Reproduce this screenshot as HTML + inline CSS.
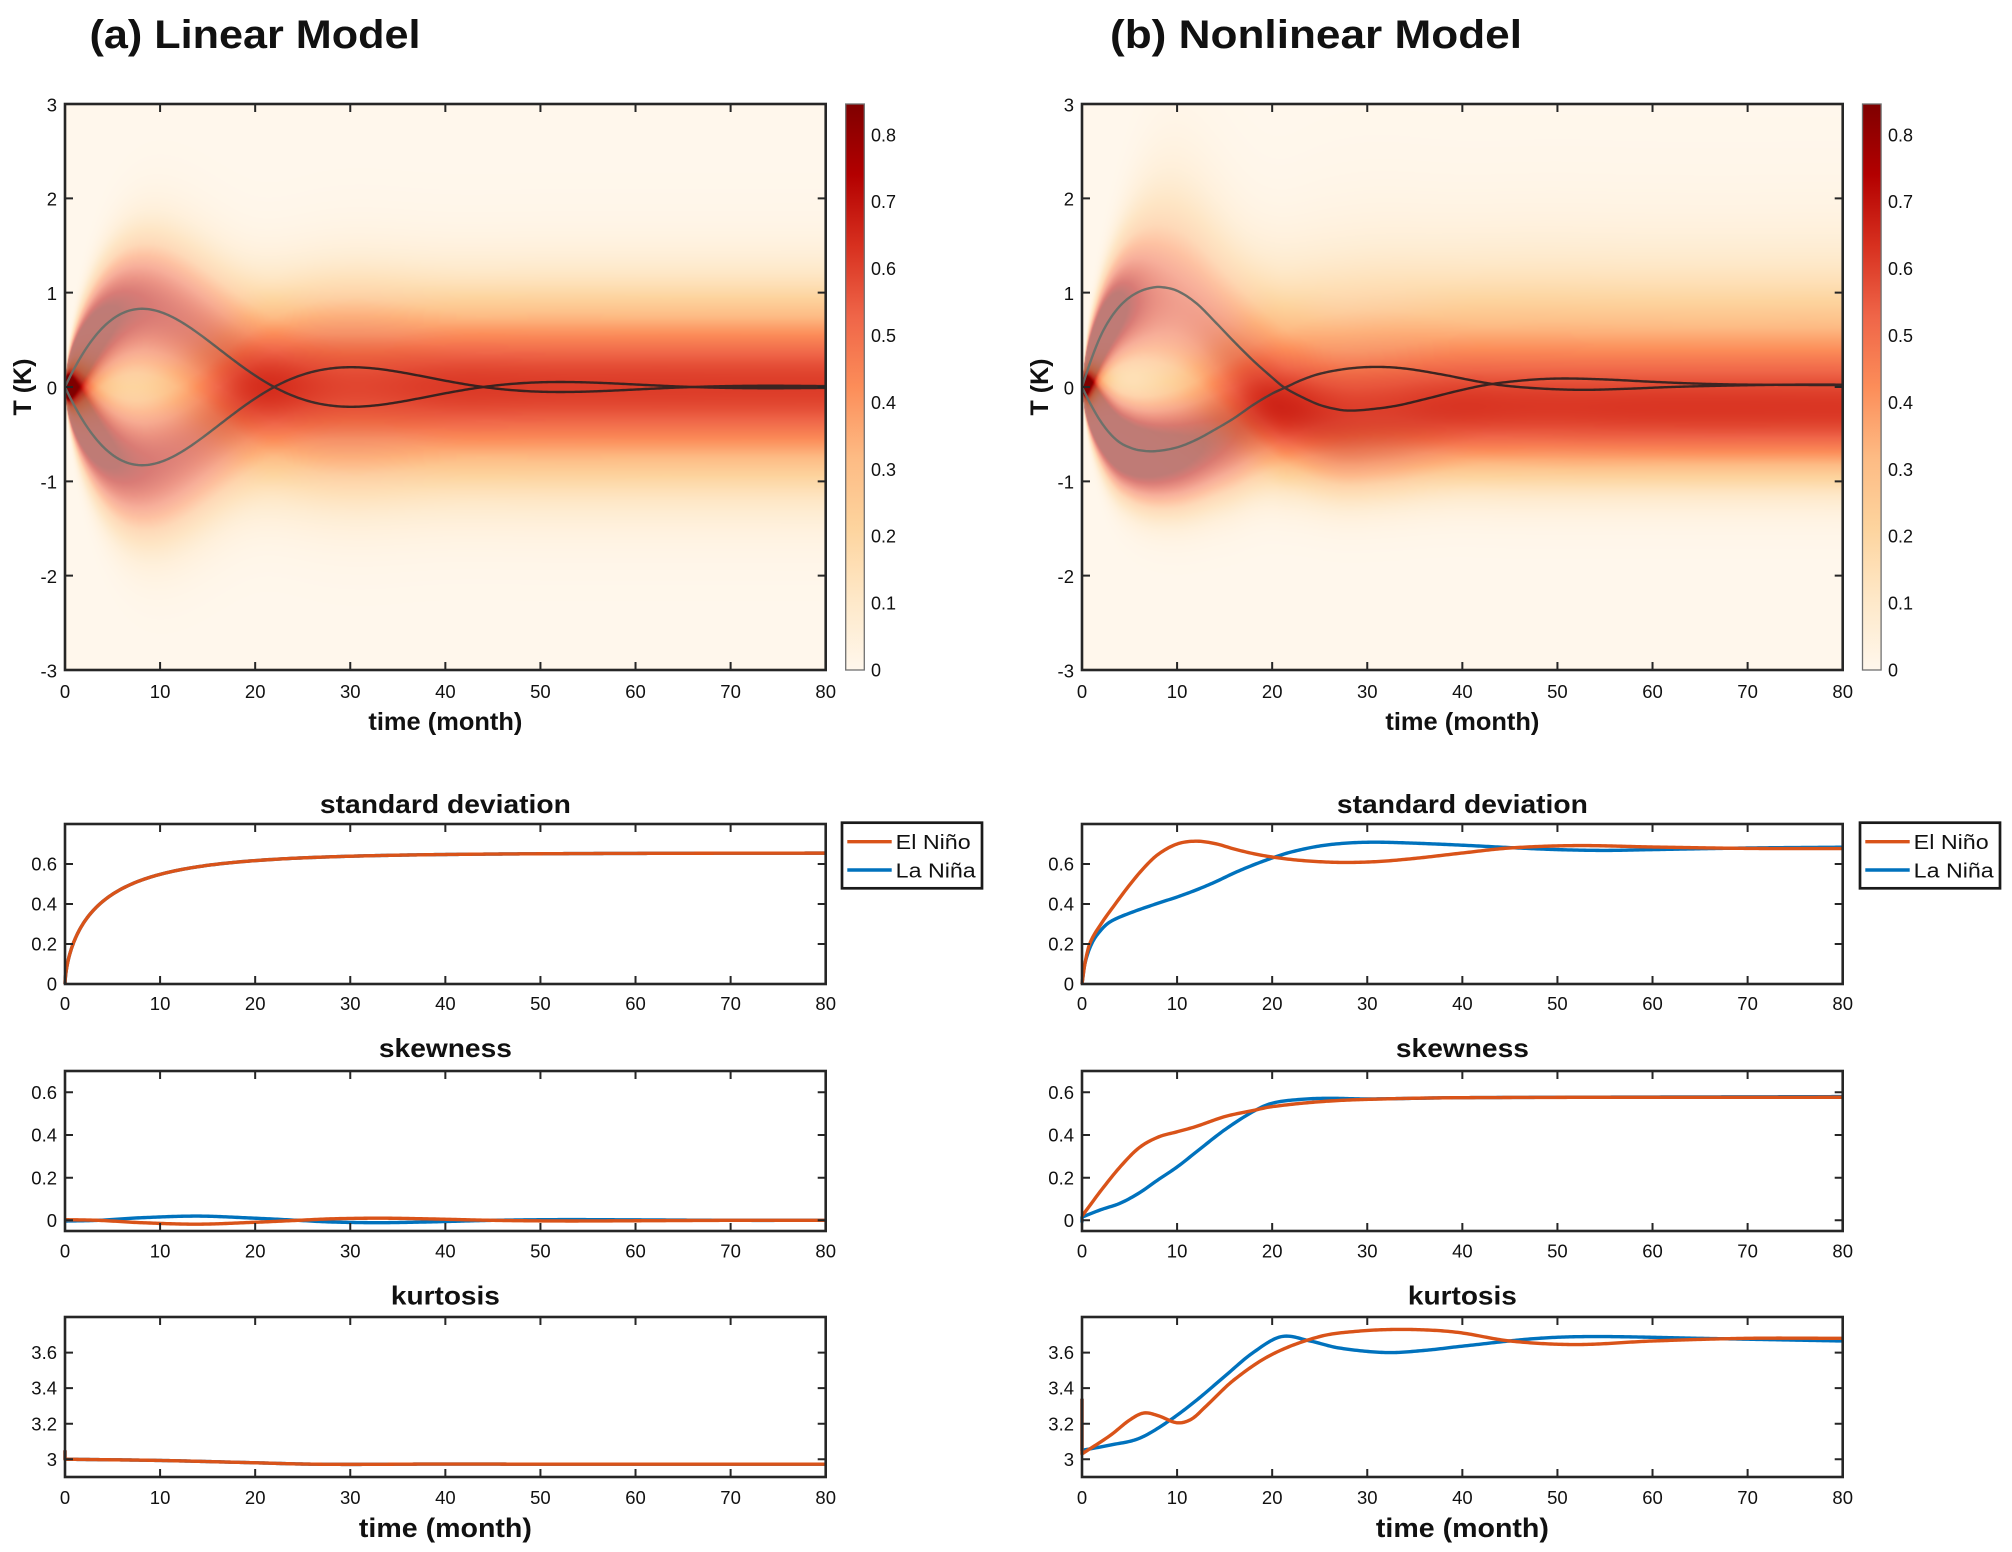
<!DOCTYPE html>
<html><head><meta charset="utf-8">
<style>
html,body{margin:0;padding:0;background:#fff;}
body{width:2012px;height:1552px;position:relative;overflow:hidden;font-family:"Liberation Sans",Arial,sans-serif;}
canvas{position:absolute;}
svg{position:absolute;left:0;top:0;}
</style></head><body>
<canvas id="ha" width="761" height="566" style="left:65px;top:104px;background:#fff7ec"></canvas>
<canvas id="hb" width="761" height="566" style="left:1082px;top:104px;background:#fff7ec"></canvas>
<svg width="2012" height="1552" viewBox="0 0 2012 1552">
<defs>
<linearGradient id="cm" x1="0" y1="1" x2="0" y2="0">
<stop offset="0" stop-color="#fff7ec"/><stop offset="0.125" stop-color="#fee8c8"/><stop offset="0.25" stop-color="#fdd49e"/><stop offset="0.375" stop-color="#fdbb84"/><stop offset="0.5" stop-color="#fc8d59"/><stop offset="0.625" stop-color="#ef6548"/><stop offset="0.75" stop-color="#d7301f"/><stop offset="0.875" stop-color="#b30000"/><stop offset="1" stop-color="#7f0000"/>
</linearGradient>
<linearGradient id="mga" gradientUnits="userSpaceOnUse" x1="65" y1="0" x2="825.7" y2="0">
<stop offset="0" stop-color="#66736d"/><stop offset="0.18" stop-color="#5c6660"/><stop offset="0.27" stop-color="#353030"/><stop offset="0.4" stop-color="#2a1f1d"/><stop offset="1" stop-color="#2a2222"/>
</linearGradient>
<linearGradient id="mgb" gradientUnits="userSpaceOnUse" x1="1082" y1="0" x2="1842.7" y2="0">
<stop offset="0" stop-color="#66736d"/><stop offset="0.18" stop-color="#5c6660"/><stop offset="0.27" stop-color="#353030"/><stop offset="0.4" stop-color="#2a1f1d"/><stop offset="1" stop-color="#2a2222"/>
</linearGradient>
<clipPath id="cha"><rect x="65" y="104" width="760.7" height="566"/></clipPath>
<clipPath id="chb"><rect x="1082" y="104" width="760.7" height="566"/></clipPath>
<clipPath id="cla"><rect x="63" y="700" width="765" height="800"/></clipPath>
<clipPath id="clb"><rect x="1080" y="700" width="765" height="800"/></clipPath>
</defs>

<g clip-path="url(#cha)" fill="none" stroke="url(#mga)" stroke-width="2.4" opacity="0.9">
<path id="mA1"/><path id="mA2"/>
</g>
<g clip-path="url(#chb)" fill="none" stroke="url(#mgb)" stroke-width="2.4" opacity="0.9">
<path id="mB1"/><path id="mB2"/>
</g>

<g clip-path="url(#cla)" fill="none" stroke-width="3.4" stroke-linejoin="round" stroke-linecap="butt">
<path id="sdAb" stroke="#0072BD"/><path id="sdAo" stroke="#D95319"/>
<path id="skAb" stroke="#0072BD"/><path id="skAo" stroke="#D95319"/>
<path id="kuAb" stroke="#0072BD"/><path id="kuAo" stroke="#D95319"/>
</g>
<g clip-path="url(#clb)" fill="none" stroke-width="3.4" stroke-linejoin="round" stroke-linecap="butt">
<path id="sdBb" stroke="#0072BD"/><path id="sdBo" stroke="#D95319"/>
<path id="skBb" stroke="#0072BD"/><path id="skBo" stroke="#D95319"/>
<path id="kuBb" stroke="#0072BD"/><path id="kuBo" stroke="#D95319"/>
</g>

<path id="tk" fill="none" stroke="#262626" stroke-width="2"/>
<path id="ctk" fill="none" stroke="#555" stroke-width="1.2"/>

<g fill="none" stroke="#262626" stroke-width="2.6">
<rect x="65" y="104" width="760.7" height="566"/>
<rect x="1082" y="104" width="760.7" height="566"/>
<rect x="65" y="824" width="760.7" height="160"/>
<rect x="1082" y="824" width="760.7" height="160"/>
<rect x="65" y="1071" width="760.7" height="160"/>
<rect x="1082" y="1071" width="760.7" height="160"/>
<rect x="65" y="1317" width="760.7" height="160"/>
<rect x="1082" y="1317" width="760.7" height="160"/>
</g>

<rect x="845.7" y="104" width="18.6" height="566" fill="url(#cm)" stroke="#707070" stroke-width="1.3"/>
<rect x="1862.5" y="104" width="18.6" height="566" fill="url(#cm)" stroke="#707070" stroke-width="1.3"/>

<rect x="842" y="822.7" width="140" height="65.6" fill="#fff" stroke="#1a1a1a" stroke-width="2.7"/>
<line x1="847.3" y1="841.7" x2="891.7" y2="841.7" stroke="#D95319" stroke-width="3.4"/>
<line x1="847.3" y1="870" x2="891.7" y2="870" stroke="#0072BD" stroke-width="3.4"/>
<rect x="1860" y="822.7" width="140" height="65.6" fill="#fff" stroke="#1a1a1a" stroke-width="2.7"/>
<line x1="1865.3" y1="841.7" x2="1909.7" y2="841.7" stroke="#D95319" stroke-width="3.4"/>
<line x1="1865.3" y1="870" x2="1909.7" y2="870" stroke="#0072BD" stroke-width="3.4"/>

<g fill="#111" font-family="Liberation Sans, Arial, sans-serif">
<text x="895.7" y="849" font-size="20" textLength="75" lengthAdjust="spacingAndGlyphs">El Niño</text>
<text x="895.7" y="877.5" font-size="20" textLength="80" lengthAdjust="spacingAndGlyphs">La Niña</text>
<text x="1913.7" y="849" font-size="20" textLength="75" lengthAdjust="spacingAndGlyphs">El Niño</text>
<text x="1913.7" y="877.5" font-size="20" textLength="80" lengthAdjust="spacingAndGlyphs">La Niña</text>

<text x="89.5" y="48" font-size="40" font-weight="bold" textLength="331" lengthAdjust="spacingAndGlyphs">(a) Linear Model</text>
<text x="1110" y="48" font-size="40" font-weight="bold" textLength="412" lengthAdjust="spacingAndGlyphs">(b) Nonlinear Model</text>

<text transform="translate(31,387) rotate(-90)" text-anchor="middle" font-size="25" font-weight="bold" textLength="57" lengthAdjust="spacingAndGlyphs">T (K)</text>
<text transform="translate(1048,387) rotate(-90)" text-anchor="middle" font-size="25" font-weight="bold" textLength="57" lengthAdjust="spacingAndGlyphs">T (K)</text>

<text x="445.4" y="730" text-anchor="middle" font-size="25" font-weight="bold" textLength="154" lengthAdjust="spacingAndGlyphs">time (month)</text>
<text x="1462.4" y="730" text-anchor="middle" font-size="25" font-weight="bold" textLength="154" lengthAdjust="spacingAndGlyphs">time (month)</text>
<text x="445.4" y="1537" text-anchor="middle" font-size="27" font-weight="bold" textLength="173" lengthAdjust="spacingAndGlyphs">time (month)</text>
<text x="1462.4" y="1537" text-anchor="middle" font-size="27" font-weight="bold" textLength="173" lengthAdjust="spacingAndGlyphs">time (month)</text>

<text x="445.4" y="813" text-anchor="middle" font-size="26" font-weight="bold" textLength="251" lengthAdjust="spacingAndGlyphs">standard deviation</text>
<text x="1462.4" y="813" text-anchor="middle" font-size="26" font-weight="bold" textLength="251" lengthAdjust="spacingAndGlyphs">standard deviation</text>
<text x="445.4" y="1057" text-anchor="middle" font-size="26" font-weight="bold" textLength="133" lengthAdjust="spacingAndGlyphs">skewness</text>
<text x="1462.4" y="1057" text-anchor="middle" font-size="26" font-weight="bold" textLength="133" lengthAdjust="spacingAndGlyphs">skewness</text>
<text x="445.4" y="1304.5" text-anchor="middle" font-size="26" font-weight="bold" textLength="109" lengthAdjust="spacingAndGlyphs">kurtosis</text>
<text x="1462.4" y="1304.5" text-anchor="middle" font-size="26" font-weight="bold" textLength="109" lengthAdjust="spacingAndGlyphs">kurtosis</text>
</g>

<g fill="#111" font-size="18.5" text-anchor="middle" font-family="Liberation Sans, Arial, sans-serif">
<g transform="translate(0,698)"><text x="65">0</text><text x="160.1">10</text><text x="255.2">20</text><text x="350.3">30</text><text x="445.4">40</text><text x="540.4">50</text><text x="635.5">60</text><text x="730.6">70</text><text x="825.7">80</text></g>
<g transform="translate(1017,698)"><text x="65">0</text><text x="160.1">10</text><text x="255.2">20</text><text x="350.3">30</text><text x="445.4">40</text><text x="540.4">50</text><text x="635.5">60</text><text x="730.6">70</text><text x="825.7">80</text></g>
<g transform="translate(0,1010)"><text x="65">0</text><text x="160.1">10</text><text x="255.2">20</text><text x="350.3">30</text><text x="445.4">40</text><text x="540.4">50</text><text x="635.5">60</text><text x="730.6">70</text><text x="825.7">80</text></g>
<g transform="translate(1017,1010)"><text x="65">0</text><text x="160.1">10</text><text x="255.2">20</text><text x="350.3">30</text><text x="445.4">40</text><text x="540.4">50</text><text x="635.5">60</text><text x="730.6">70</text><text x="825.7">80</text></g>
<g transform="translate(0,1257.5)"><text x="65">0</text><text x="160.1">10</text><text x="255.2">20</text><text x="350.3">30</text><text x="445.4">40</text><text x="540.4">50</text><text x="635.5">60</text><text x="730.6">70</text><text x="825.7">80</text></g>
<g transform="translate(1017,1257.5)"><text x="65">0</text><text x="160.1">10</text><text x="255.2">20</text><text x="350.3">30</text><text x="445.4">40</text><text x="540.4">50</text><text x="635.5">60</text><text x="730.6">70</text><text x="825.7">80</text></g>
<g transform="translate(0,1504)"><text x="65">0</text><text x="160.1">10</text><text x="255.2">20</text><text x="350.3">30</text><text x="445.4">40</text><text x="540.4">50</text><text x="635.5">60</text><text x="730.6">70</text><text x="825.7">80</text></g>
<g transform="translate(1017,1504)"><text x="65">0</text><text x="160.1">10</text><text x="255.2">20</text><text x="350.3">30</text><text x="445.4">40</text><text x="540.4">50</text><text x="635.5">60</text><text x="730.6">70</text><text x="825.7">80</text></g>
</g>

<g fill="#111" font-size="18.5" text-anchor="end" font-family="Liberation Sans, Arial, sans-serif">
<g><text x="57" y="111.3">3</text><text x="57" y="205.6">2</text><text x="57" y="300">1</text><text x="57" y="394.3">0</text><text x="57" y="488.6">-1</text><text x="57" y="583">-2</text><text x="57" y="677.3">-3</text></g>
<g transform="translate(1017,0)"><text x="57" y="111.3">3</text><text x="57" y="205.6">2</text><text x="57" y="300">1</text><text x="57" y="394.3">0</text><text x="57" y="488.6">-1</text><text x="57" y="583">-2</text><text x="57" y="677.3">-3</text></g>
<g><text x="57" y="990.6">0</text><text x="57" y="950.6">0.2</text><text x="57" y="910.6">0.4</text><text x="57" y="870.6">0.6</text></g>
<g transform="translate(1017,0)"><text x="57" y="990.6">0</text><text x="57" y="950.6">0.2</text><text x="57" y="910.6">0.4</text><text x="57" y="870.6">0.6</text></g>
<g><text x="57" y="1226.9">0</text><text x="57" y="1184.3">0.2</text><text x="57" y="1141.6">0.4</text><text x="57" y="1098.9">0.6</text></g>
<g transform="translate(1017,0)"><text x="57" y="1226.9">0</text><text x="57" y="1184.3">0.2</text><text x="57" y="1141.6">0.4</text><text x="57" y="1098.9">0.6</text></g>
<g><text x="57" y="1465.8">3</text><text x="57" y="1430.3">3.2</text><text x="57" y="1394.7">3.4</text><text x="57" y="1359.2">3.6</text></g>
<g transform="translate(1017,0)"><text x="57" y="1465.8">3</text><text x="57" y="1430.3">3.2</text><text x="57" y="1394.7">3.4</text><text x="57" y="1359.2">3.6</text></g>
</g>

<g fill="#111" font-size="18" font-family="Liberation Sans, Arial, sans-serif">
<g><text x="871" y="676.5">0</text><text x="871" y="609.6">0.1</text><text x="871" y="542.7">0.2</text><text x="871" y="475.8">0.3</text><text x="871" y="408.9">0.4</text><text x="871" y="342">0.5</text><text x="871" y="275.1">0.6</text><text x="871" y="208.2">0.7</text><text x="871" y="141.3">0.8</text></g>
<g transform="translate(1017,0)"><text x="871" y="676.5">0</text><text x="871" y="609.6">0.1</text><text x="871" y="542.7">0.2</text><text x="871" y="475.8">0.3</text><text x="871" y="408.9">0.4</text><text x="871" y="342">0.5</text><text x="871" y="275.1">0.6</text><text x="871" y="208.2">0.7</text><text x="871" y="141.3">0.8</text></g>
</g>
</svg>

<script>
(function(){
var W=760.7;
function herm(pts){
  var n=pts.length,xs=[],ys=[],m=[],i;
  for(i=0;i<n;i++){xs.push(pts[i][0]);ys.push(pts[i][1]);}
  for(i=0;i<n;i++){
    if(i==0)m[i]=(ys[1]-ys[0])/(xs[1]-xs[0]);
    else if(i==n-1)m[i]=(ys[n-1]-ys[n-2])/(xs[n-1]-xs[n-2]);
    else m[i]=(ys[i+1]-ys[i-1])/(xs[i+1]-xs[i-1]);
  }
  return function(x){
    if(x<=xs[0])return ys[0]; if(x>=xs[n-1])return ys[n-1];
    var k=0; while(x>xs[k+1])k++;
    var h=xs[k+1]-xs[k],u=(x-xs[k])/h,u2=u*u,u3=u2*u;
    return (2*u3-3*u2+1)*ys[k]+(u3-2*u2+u)*h*m[k]+(-2*u3+3*u2)*ys[k+1]+(u3-u2)*h*m[k+1];
  };
}
function mLin(t){return 1.503*Math.exp(-t/16)*Math.sin(Math.PI*t/22);}
function sLin(t){if(t<=0)return 0;return 0.655*(1-Math.exp(-Math.pow(t/4,0.65)));}
var skLo=[[0,0.003],[3.5,0],[8,-0.011],[14,-0.018],[20,-0.009],[24.5,0],[28,0.007],[33,0.01],[38,0.007],[45,0],[52,-0.003],[60,-0.002],[70,0],[80,0]];
var skLO=herm(skLo);
var skLB=herm(skLo.map(function(p){return [p[0],-p[1]*1.1];}));
var kuL=herm([[0,3.0],[10,2.993],[20,2.98],[25,2.973],[30,2.971],[40,2.973],[50,2.972],[80,2.972]]);

var m1=herm([[0,0],[1,0.3],[2,0.55],[3,0.73],[4,0.86],[5,0.95],[6,1.01],[7,1.045],[8.2,1.06],[10,1.02],[12,0.89],[14,0.69],[16,0.48],[18,0.28],[20,0.1],[21.2,0],[23,-0.1],[25,-0.19],[27,-0.24],[28.3,-0.25],[30,-0.24],[33,-0.2],[36,-0.13],[40,-0.03],[43,0.03],[47,0.075],[50.5,0.09],[55,0.08],[60,0.055],[65,0.035],[70,0.025],[80,0.02]]);
var m2=herm([[0,0],[1,-0.2],[2,-0.37],[3,-0.5],[4,-0.59],[5,-0.64],[6,-0.67],[7.7,-0.68],[10,-0.64],[12,-0.56],[14,-0.45],[16,-0.33],[18,-0.19],[20,-0.07],[21.5,0],[23,0.07],[25,0.14],[28,0.195],[31,0.213],[34,0.195],[38,0.13],[41,0.07],[44,0.02],[48,-0.015],[52.5,-0.03],[57,-0.02],[62,0.0],[68,0.015],[75,0.025],[80,0.025]]);
var s1=herm([[0,0],[0.3,0.1],[0.8,0.2],[2,0.3],[3.5,0.4],[5,0.495],[6.5,0.58],[8,0.648],[10,0.7],[12,0.714],[14,0.702],[16,0.675],[18,0.652],[20,0.635],[23,0.618],[27,0.608],[31,0.612],[35,0.628],[40,0.655],[45,0.68],[52,0.692],[60,0.685],[70,0.678],[80,0.677]]);
var s2=herm([[0,0],[0.3,0.1],[1,0.2],[2,0.27],[3,0.312],[5,0.354],[8,0.404],[10,0.435],[12,0.47],[14,0.51],[16,0.555],[18,0.595],[20,0.63],[22,0.66],[25,0.69],[28,0.705],[31,0.709],[35,0.704],[40,0.694],[45,0.682],[50,0.672],[55,0.668],[60,0.672],[70,0.68],[80,0.684]]);
var g1=herm([[0,0.02],[1,0.08],[2,0.14],[4,0.25],[6,0.34],[8,0.39],[10,0.415],[12,0.44],[15,0.486],[18,0.515],[20,0.533],[25,0.556],[30,0.567],[40,0.575],[80,0.577]]);
var g2=herm([[0,0.015],[2,0.05],[4,0.08],[6,0.128],[8,0.19],[10,0.25],[12,0.32],[15,0.424],[18,0.51],[20,0.549],[23,0.567],[26,0.572],[30,0.569],[40,0.575],[80,0.58]]);
var k1=herm([[0,3.03],[3,3.135],[5,3.22],[6.5,3.26],[8,3.245],[10,3.205],[11.5,3.225],[13,3.296],[16,3.447],[20,3.59],[25,3.69],[29,3.72],[33,3.73],[37,3.725],[40,3.71],[45,3.665],[52,3.645],[60,3.665],[70,3.68],[80,3.68]]);
var k2=herm([[0,3.05],[3,3.08],[6,3.117],[9,3.21],[12,3.33],[15,3.466],[18,3.6],[21,3.69],[24,3.665],[27,3.626],[32,3.6],[36,3.612],[40,3.636],[48,3.68],[54,3.69],[65,3.68],[80,3.665]]);

function Phi(x){var z=x/Math.SQRT2,s=z<0?-1:1,a=Math.abs(z),t=1/(1+0.3275911*a);
  var y=1-(((((1.061405429*t-1.453152027)*t)+1.421413741)*t-0.284496736)*t+0.254829592)*t*Math.exp(-a*a);return 0.5*(1+s*y);}
function gam(de){var b=de*Math.sqrt(2/Math.PI);return (4-Math.PI)/2*b*b*b/Math.pow(1-b*b,1.5);}
function snP(mu,sig,g){
  sig=Math.max(sig,0.035);var sg=g<0?-1:1,ag=Math.min(Math.abs(g),0.97),lo=0,hi=0.9999;
  for(var i=0;i<40;i++){var mid=(lo+hi)/2;if(gam(mid)<ag)lo=mid;else hi=mid;}
  var de=lo*sg,b=de*Math.sqrt(2/Math.PI),om=sig/Math.sqrt(1-b*b),al=de/Math.sqrt(1-de*de);
  return {xi:mu-om*b,om:om,al:al};
}
function snpdf(x,p){var z=(x-p.xi)/p.om;return 2/p.om*0.39894228*Math.exp(-0.5*z*z)*Phi(p.al*z);}
var stops=[[255,247,236],[254,232,200],[253,212,158],[253,187,132],[252,141,89],[239,101,72],[215,48,31],[179,0,0],[127,0,0]];
function cmap(v){var u=v/0.846*8;if(u<0)u=0;if(u>=8)return stops[8];var i=Math.floor(u),f=u-i,a=stops[i],b=stops[i+1];
  return [a[0]+(b[0]-a[0])*f,a[1]+(b[1]-a[1])*f,a[2]+(b[2]-a[2])*f];}
function drawHeat(id,c1f,c2f){
  var cv=document.getElementById(id),ctx=cv.getContext('2d'),w=cv.width,h=cv.height,img=ctx.createImageData(w,h),d=img.data;
  for(var px=0;px<w;px++){
    var t=(px+0.5)/w*80,c1=c1f(t),c2=c2f(t);
    for(var py=0;py<h;py++){
      var T=3-(py+0.5)/h*6,a=cmap(snpdf(T,c1)),b=cmap(snpdf(T,c2)),k=(py*w+px)*4;
      d[k]=(a[0]+b[0])/2;d[k+1]=(a[1]+b[1])/2;d[k+2]=(a[2]+b[2])/2;d[k+3]=255;
    }
  }
  ctx.putImageData(img,0,0);
}
drawHeat('ha',function(t){return snP(mLin(t),sLin(t),0);},function(t){return snP(-mLin(t),sLin(t),0);});
drawHeat('hb',function(t){return snP(m1(t),s1(t),g1(t));},function(t){return snP(m2(t),s2(t),g2(t));});

function ts(){var a=[],t;for(t=0;t<0.5;t+=0.02)a.push(t);for(t=0.5;t<=80.0001;t+=0.2)a.push(Math.min(t,80));return a;}
var TS=ts();
function path(x0,f,ym,pre){
  var d=pre||'',first=!pre;
  TS.forEach(function(t){var x=(x0+t*W/80).toFixed(2),y=ym(f(t)).toFixed(2);d+=(first?'M':'L')+x+','+y;first=false;});
  return d;
}
function set(id,d){document.getElementById(id).setAttribute('d',d);}
var yH=function(v){return 387-v*94.333;};
var ySd=function(v){return 984-v*200;};
var ySk=function(v){return 1231-(v+0.05)*213.33;};
var yKu=function(v){return 1477-(v-2.9)*177.78;};
set('mA1',path(65,mLin,yH));
set('mA2',path(65,function(t){return -mLin(t);},yH));
set('mB1',path(1082,m1,yH));
set('mB2',path(1082,m2,yH));
set('sdAb',path(65,sLin,ySd));set('sdAo',path(65,sLin,ySd));
set('skAb',path(65,skLB,ySk));set('skAo',path(65,skLO,ySk));
set('kuAb',path(65,kuL,yKu,'M65,'+yKu(3.05).toFixed(2)));
set('kuAo',path(65,kuL,yKu,'M65,'+yKu(3.05).toFixed(2)));
set('sdBb',path(1082,s2,ySd));set('sdBo',path(1082,s1,ySd));
set('skBb',path(1082,g2,ySk,'M1082,'+ySk(-0.01).toFixed(2)));set('skBo',path(1082,g1,ySk));
set('kuBb',path(1082,k2,yKu,'M1082,'+yKu(3.34).toFixed(2)));
set('kuBo',path(1082,k1,yKu,'M1082,'+yKu(3.34).toFixed(2)));

var d='';
function box(x0,y0,x1,y1,yt){
  for(var i=1;i<8;i++){var x=x0+i*W/8;d+='M'+x+','+y1+'V'+(y1-8)+'M'+x+','+y0+'V'+(y0+8);}
  yt.forEach(function(y){d+='M'+x0+','+y+'H'+(x0+8)+'M'+x1+','+y+'H'+(x1-8);});
}
[65,1082].forEach(function(x0){
  var x1=x0+W;
  box(x0,104,x1,670,[198.33,292.67,387,481.33,575.67]);
  box(x0,824,x1,984,[944,904,864]);
  box(x0,1071,x1,1231,[1220.3,1177.7,1135,1092.3]);
  box(x0,1317,x1,1477,[1459.2,1423.7,1388.1,1352.6]);
});
set('tk',d);
var c='';
[864.3,1881.1].forEach(function(xr){for(var i=1;i<=8;i++){var y=670-i*66.9;c+='M'+xr+','+y+'H'+(xr-4);}});
set('ctk',c);
})();
</script>
</body></html>
